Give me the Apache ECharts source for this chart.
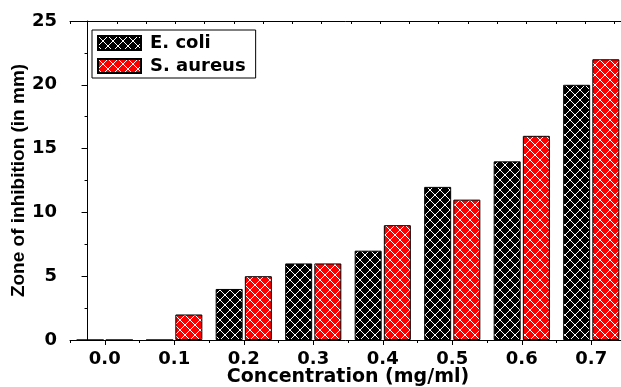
<!DOCTYPE html>
<html>
<head>
<meta charset="utf-8">
<script src="https://cdn.jsdelivr.net/npm/echarts@6/dist/echarts.min.js"></script>
<style>
  html, body { margin: 0; padding: 0; background: #fff; }
  #chart { width: 621px; height: 387px; }
</style>
</head>
<body>
<div id="chart"></div>
<script>
  // data
  var categories = ['0.0', '0.1', '0.2', '0.3', '0.4', '0.5', '0.6', '0.7'];
  var ecoli = [0, 0, 4, 6, 7, 12, 14, 20];
  var aureus = [0, 2, 5, 6, 9, 11, 16, 22];

  var font = 'DejaVu Sans';

  // crosshatch fill, white diagonals on a solid colour
  function hatch(bg) {
    var s = 10;
    var c = document.createElement('canvas');
    c.width = s;
    c.height = s;
    var g = c.getContext('2d');
    g.fillStyle = bg;
    g.fillRect(0, 0, s, s);
    g.strokeStyle = '#fff';
    g.lineWidth = 1;
    g.beginPath();
    g.moveTo(-1, -1); g.lineTo(s + 1, s + 1);
    g.moveTo(s + 1, -1); g.lineTo(-1, s + 1);
    g.stroke();
    return c;
  }

  var black = { lineStyle: { color: '#000', width: 1 } };

  var chart = echarts.init(document.getElementById('chart'));
  chart.setOption({
    animation: false,
    grid: { left: 70, top: 21, width: 556, height: 319, outerBoundsMode: 'none' },
    legend: {
      orient: 'vertical',
      left: 92,
      top: 30,
      padding: [4, 10, 3, 5],
      itemGap: 5,
      itemWidth: 43,
      itemHeight: 14,
      icon: 'rect',
      borderColor: '#000',
      borderWidth: 1,
      backgroundColor: '#fff',
      textStyle: { fontFamily: font, fontWeight: 'bold', fontSize: 18, lineHeight: 18, color: '#000', padding: [0, 0, 0, 4] },
      data: ['E. coli', 'S. aureus']
    },
    xAxis: [{
      type: 'category',
      data: categories,
      position: 'bottom',
      axisLine: black,
      axisTick: { show: true, length: 3, lineStyle: { color: '#000' } },
      axisLabel: { color: '#000', fontFamily: font, fontWeight: 'bold', fontSize: 18, margin: 10 },
      name: 'Concentration (mg/ml)',
      nameLocation: 'middle',
      nameGap: 28,
      nameMoveOverlap: false,
      nameTextStyle: { color: '#000', fontFamily: font, fontWeight: 'bold', fontSize: 19 }
    }, {
      type: 'category',
      data: categories,
      position: 'bottom',
      axisLine: { show: false },
      axisTick: { show: true, alignWithLabel: true, length: 5, lineStyle: { color: '#000' } },
      axisLabel: { show: false }
    }, {
      type: 'value',
      position: 'top',
      min: -0.6,
      max: 18.4,
      splitNumber: 19,
      axisLine: { show: true, lineStyle: { color: '#000', width: 1 } },
      axisTick: { show: true, inside: true, length: 3, lineStyle: { color: '#000' } },
      axisLabel: { show: false },
      splitLine: { show: false }
    }],
    yAxis: {
      type: 'value',
      min: 0,
      max: 25,
      interval: 5,
      axisLine: { show: true, lineStyle: { color: '#000', width: 1 } },
      axisTick: { show: true, length: 6, lineStyle: { color: '#000' } },
      minorTick: { show: true, splitNumber: 2, length: 3, lineStyle: { color: '#000' } },
      splitLine: { show: false },
      axisLabel: { color: '#000', fontFamily: font, fontWeight: 'bold', fontSize: 18, margin: 13 },
      name: 'Zone of inhibition (in mm)',
      nameLocation: 'middle',
      nameGap: 42,
      nameMoveOverlap: false,
      nameTextStyle: { color: '#000', fontFamily: 'Liberation Sans', fontWeight: 'bold', fontSize: 19 }
    },
    series: [{
      name: 'E. coli',
      type: 'bar',
      data: ecoli,
      barWidth: 27,
      barGap: '8%',
      itemStyle: { color: { image: hatch('#000'), repeat: 'repeat' }, borderColor: '#000', borderWidth: 1 }
    }, {
      name: 'S. aureus',
      type: 'bar',
      data: aureus,
      barWidth: 27,
      barGap: '8%',
      itemStyle: { color: { image: hatch('#ff0000'), repeat: 'repeat' }, borderColor: '#000', borderWidth: 1 }
    }]
  });
</script>
</body>
</html>
